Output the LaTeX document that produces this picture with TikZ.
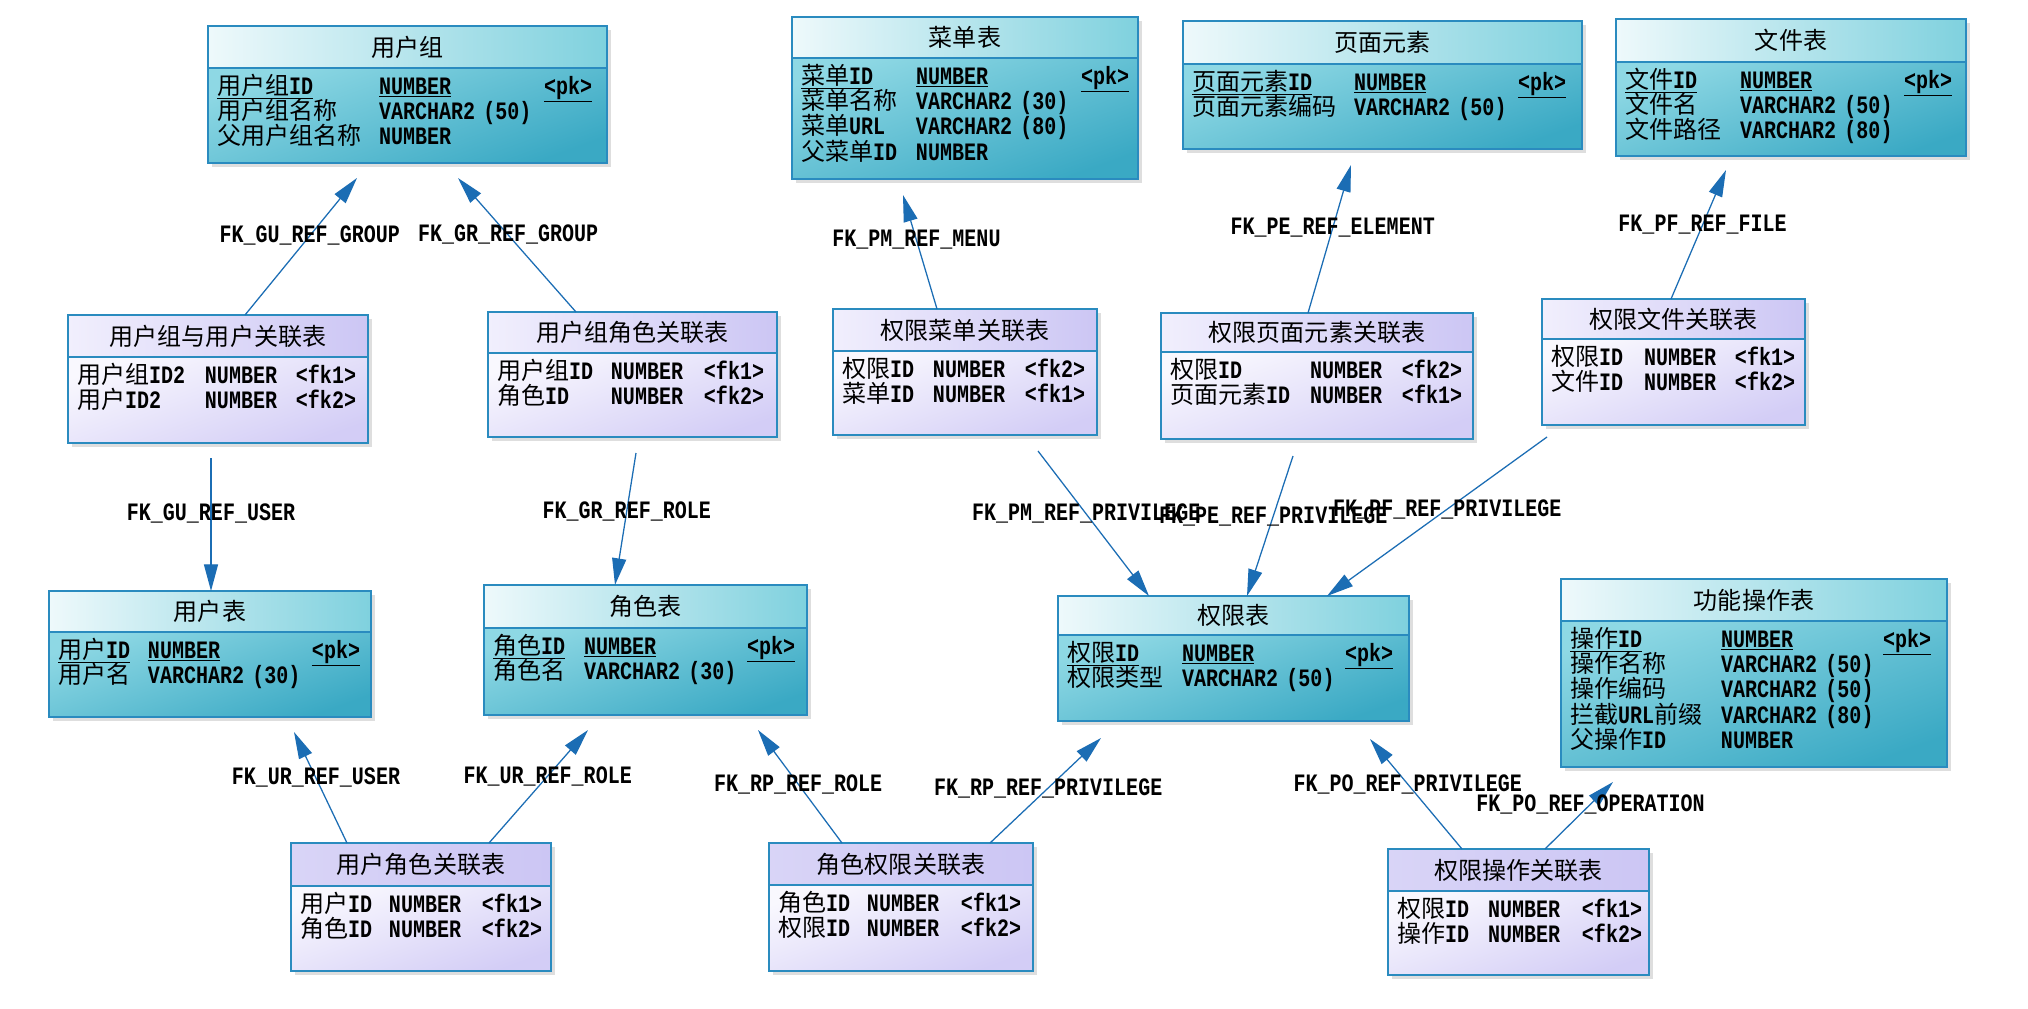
\documentclass[tikz,border=0pt]{standalone}
\usepackage{fontspec}
\setmainfont{Liberation Mono}[UprightFont=* Bold, FakeStretch=0.8]
\newfontfamily\zhfont{Noto Sans CJK SC}[Scale=0.96]
\usepackage{tikz}
\usetikzlibrary{positioning,arrows.meta,shadows}
\definecolor{bordc}{HTML}{2A8BBF}
\definecolor{enthl}{HTML}{EEF9FB}
\definecolor{enthr}{HTML}{7FD1DE}
\definecolor{entbt}{HTML}{8ED8E4}
\definecolor{entbb}{HTML}{3AA9C4}
\definecolor{lnkhl}{HTML}{F1EFFD}
\definecolor{lnkhr}{HTML}{CCC6F4}
\definecolor{lnkbt}{HTML}{F9F8FE}
\definecolor{lnkbb}{HTML}{D3CDF6}
\definecolor{fkc}{HTML}{1B6DB4}
\newlength\px \setlength\px{0.025cm}
\newlength\cwa \newlength\cwb
\newcommand\cols[2]{\setlength\cwa{#1\px}\setlength\cwb{#2\px}}
\newcommand\zh[1]{{\zhfont #1}}
\newcommand\frow[3]{\makebox[\cwa][l]{#1}\makebox[\cwb][l]{#2}#3}
\newcommand\pkrow[3]{\makebox[\cwa][l]{\underline{#1}}\makebox[\cwb][l]{\underline{#2}}\underline{#3}}
\newcommand\rowfont{\fontsize{17.8}{17.95}\selectfont\lineskiplimit=-100pt\relax}
\tikzset{
  tbl/.style={draw=bordc, line width=1.3pt, outer sep=0pt, inner sep=0pt,
              drop shadow={shadow xshift=2.5pt, shadow yshift=-2.5pt, opacity=.18, fill=black!70}},
  thead/.style={tbl, anchor=north west, font=\rowfont\zhfont},
  tbody/.style={tbl, align=left, inner xsep=9*\px, text height=26.5*\px, font=\rowfont},
  enthead/.style={thead, left color=enthl, right color=enthr},
  entbody/.style={tbody, top color=entbt, bottom color=entbb, shading angle=20},
  lnkhead/.style={thead, left color=lnkhl, right color=lnkhr},
  lnkheadd/.style={thead, left color=lnkhr!75, right color=lnkhr},
  lnkbody/.style={tbody, top color=lnkbt, bottom color=lnkbb, shading angle=20},
  fk/.style={draw=fkc, line width=0.9pt, -{Triangle[length=19pt, width=10pt]}},
  fklbl/.style={font=\rowfont, inner sep=0pt},
}
\begin{document}
\begin{tikzpicture}[x=0.025cm, y=-0.025cm]
  \fill[white] (0,0) rectangle (2028,1008);
  \useasboundingbox (0,0) rectangle (2028,1008);

  % entity tables
  \node[enthead, minimum width=399*\px, minimum height=42*\px] (grp) at (208,26) {用户组};
  \node[entbody, text width=381*\px, text depth=68.5*\px, below=0pt of grp] (grp-b)
       {\cols{162}{165}\pkrow{\zh{用户组}ID}{NUMBER}{<pk>}\\
        \frow{\zh{用户组名称}}{VARCHAR2 (50)}{}\\
        \frow{\zh{父用户组名称}}{NUMBER}{}};
  \node[enthead, minimum width=346*\px, minimum height=41*\px] (menu) at (792,17) {菜单表};
  \node[entbody, text width=328*\px, text depth=94.5*\px, below=0pt of menu] (menu-b)
       {\cols{115}{165}\pkrow{\zh{菜单}ID}{NUMBER}{<pk>}\\
        \frow{\zh{菜单名称}}{VARCHAR2 (30)}{}\\
        \frow{\zh{菜单}URL}{VARCHAR2 (80)}{}\\
        \frow{\zh{父菜单}ID}{NUMBER}{}};
  \node[enthead, minimum width=399*\px, minimum height=43*\px] (elem) at (1183,21) {页面元素};
  \node[entbody, text width=381*\px, text depth=58.5*\px, below=0pt of elem] (elem-b)
       {\cols{162}{164}\pkrow{\zh{页面元素}ID}{NUMBER}{<pk>}\\
        \frow{\zh{页面元素编码}}{VARCHAR2 (50)}{}};
  \node[enthead, minimum width=350*\px, minimum height=43*\px] (file) at (1616,19) {文件表};
  \node[entbody, text width=332*\px, text depth=67.5*\px, below=0pt of file] (file-b)
       {\cols{115}{164}\pkrow{\zh{文件}ID}{NUMBER}{<pk>}\\
        \frow{\zh{文件名}}{VARCHAR2 (50)}{}\\
        \frow{\zh{文件路径}}{VARCHAR2 (80)}{}};
  \node[enthead, minimum width=322*\px, minimum height=41*\px] (user) at (49,591) {用户表};
  \node[entbody, text width=304*\px, text depth=58.5*\px, below=0pt of user] (user-b)
       {\cols{90}{164}\pkrow{\zh{用户}ID}{NUMBER}{<pk>}\\
        \frow{\zh{用户名}}{VARCHAR2 (30)}{}};
  \node[enthead, minimum width=323*\px, minimum height=43*\px] (role) at (484,585) {角色表};
  \node[entbody, text width=305*\px, text depth=60.5*\px, below=0pt of role] (role-b)
       {\cols{91}{163}\pkrow{\zh{角色}ID}{NUMBER}{<pk>}\\
        \frow{\zh{角色名}}{VARCHAR2 (30)}{}};
  \node[enthead, minimum width=351*\px, minimum height=39*\px] (priv) at (1058,596) {权限表};
  \node[entbody, text width=333*\px, text depth=59.5*\px, below=0pt of priv] (priv-b)
       {\cols{115}{163}\pkrow{\zh{权限}ID}{NUMBER}{<pk>}\\
        \frow{\zh{权限类型}}{VARCHAR2 (50)}{}};
  \node[enthead, minimum width=386*\px, minimum height=42*\px] (op) at (1561,579) {功能操作表};
  \node[entbody, text width=368*\px, text depth=119.5*\px, below=0pt of op] (op-b)
       {\cols{151}{162}\pkrow{\zh{操作}ID}{NUMBER}{<pk>}\\
        \frow{\zh{操作名称}}{VARCHAR2 (50)}{}\\
        \frow{\zh{操作编码}}{VARCHAR2 (50)}{}\\
        \frow{\zh{拦截}URL\zh{前缀}}{VARCHAR2 (80)}{}\\
        \frow{\zh{父操作}ID}{NUMBER}{}};

  % link tables
  \node[lnkhead, minimum width=300*\px, minimum height=42*\px] (gu) at (68,315) {用户组与用户关联表};
  \node[lnkbody, text width=282*\px, text depth=59.5*\px, below=0pt of gu] (gu-b)
       {\cols{128}{91}\frow{\zh{用户组}ID2}{NUMBER}{<fk1>}\\
        \frow{\zh{用户}ID2}{NUMBER}{<fk2>}};
  \node[lnkhead, minimum width=289*\px, minimum height=41*\px] (gr) at (488,312) {用户组角色关联表};
  \node[lnkbody, text width=271*\px, text depth=57.5*\px, below=0pt of gr] (gr-b)
       {\cols{114}{93}\frow{\zh{用户组}ID}{NUMBER}{<fk1>}\\
        \frow{\zh{角色}ID}{NUMBER}{<fk2>}};
  \node[lnkhead, minimum width=264*\px, minimum height=42*\px] (pm) at (833,309) {权限菜单关联表};
  \node[lnkbody, text width=246*\px, text depth=57.5*\px, below=0pt of pm] (pm-b)
       {\cols{91}{92}\frow{\zh{权限}ID}{NUMBER}{<fk2>}\\
        \frow{\zh{菜单}ID}{NUMBER}{<fk1>}};
  \node[lnkhead, minimum width=312*\px, minimum height=39*\px] (pe) at (1161,313) {权限页面元素关联表};
  \node[lnkbody, text width=294*\px, text depth=60.5*\px, below=0pt of pe] (pe-b)
       {\cols{140}{92}\frow{\zh{权限}ID}{NUMBER}{<fk2>}\\
        \frow{\zh{页面元素}ID}{NUMBER}{<fk1>}};
  \node[lnkhead, minimum width=263*\px, minimum height=40*\px] (pf) at (1542,299) {权限文件关联表};
  \node[lnkbody, text width=245*\px, text depth=59.5*\px, below=0pt of pf] (pf-b)
       {\cols{93}{91}\frow{\zh{权限}ID}{NUMBER}{<fk1>}\\
        \frow{\zh{文件}ID}{NUMBER}{<fk2>}};
  \node[lnkheadd, minimum width=260*\px, minimum height=43*\px] (ur) at (291,843) {用户角色关联表};
  \node[lnkbody, text width=242*\px, text depth=58.5*\px, below=0pt of ur] (ur-b)
       {\cols{89}{93}\frow{\zh{用户}ID}{NUMBER}{<fk1>}\\
        \frow{\zh{角色}ID}{NUMBER}{<fk2>}};
  \node[lnkheadd, minimum width=264*\px, minimum height=42*\px] (rp) at (769,843) {角色权限关联表};
  \node[lnkbody, text width=246*\px, text depth=59.5*\px, below=0pt of rp] (rp-b)
       {\cols{89}{94}\frow{\zh{角色}ID}{NUMBER}{<fk1>}\\
        \frow{\zh{权限}ID}{NUMBER}{<fk2>}};
  \node[lnkheadd, minimum width=261*\px, minimum height=42*\px] (po) at (1388,849) {权限操作关联表};
  \node[lnkbody, text width=243*\px, text depth=57.5*\px, below=0pt of po] (po-b)
       {\cols{91}{94}\frow{\zh{权限}ID}{NUMBER}{<fk1>}\\
        \frow{\zh{操作}ID}{NUMBER}{<fk2>}};

  % references
  \draw[fk] ([xshift=177*\px]gu.north west) -- node[fklbl, pos=.578] (l-gu-grp) {FK\_GU\_REF\_GROUP}
            ([xshift=149*\px, yshift=-15*\px]grp-b.south west);
  \draw[fk] ([xshift=88*\px]gr.north west) -- node[fklbl, pos=.575] (l-gr-grp) {FK\_GR\_REF\_GROUP}
            ([xshift=250*\px, yshift=-15*\px]grp-b.south west);
  \draw[fk] ([xshift=143*\px, yshift=-15*\px]gu-b.south west) -- node[fklbl, pos=.42] (l-gu-user) {FK\_GU\_REF\_USER}
            ([xshift=162*\px]user.north west);
  \draw[fk] ([xshift=148*\px, yshift=-16*\px]gr-b.south west) -- node[fklbl, pos=.44] (l-gr-role) {FK\_GR\_REF\_ROLE}
            ([xshift=131*\px]role.north west);
  \draw[fk] ([xshift=104*\px]pm.north west) -- node[fklbl, pos=.605] (l-pm-menu) {FK\_PM\_REF\_MENU}
            ([xshift=111*\px, yshift=-16*\px]menu-b.south west);
  \draw[fk] ([xshift=147*\px]pe.north west) -- node[fklbl, pos=.574] (l-pe-elem) {FK\_PE\_REF\_ELEMENT}
            ([xshift=168*\px, yshift=-16*\px]elem-b.south west);
  \draw[fk] ([xshift=129*\px]pf.north west) -- node[fklbl, pos=.574] (l-pf-file) {FK\_PF\_REF\_FILE}
            ([xshift=110*\px, yshift=-14*\px]file-b.south west);
  \draw[fk] ([xshift=205*\px, yshift=-16*\px]pm-b.south west) -- node[fklbl, pos=.434] (l-pm-priv) {FK\_PM\_REF\_PRIVILEGE}
            ([xshift=91*\px]priv.north west);
  \draw[fk] ([xshift=132*\px, yshift=-17*\px]pe-b.south west) -- node[fklbl, pos=.43] (l-pe-priv) {FK\_PE\_REF\_PRIVILEGE}
            ([xshift=189*\px]priv.north west);
  \draw[fk] ([xshift=5*\px, yshift=-12*\px]pf-b.south west) -- node[fklbl, pos=.453] (l-pf-priv) {FK\_PF\_REF\_PRIVILEGE}
            ([xshift=269*\px]priv.north west);
  \draw[fk] ([xshift=56*\px]ur.north west) -- node[fklbl, pos=.586] (l-ur-user) {FK\_UR\_REF\_USER}
            ([xshift=245*\px, yshift=-15*\px]user-b.south west);
  \draw[fk] ([xshift=198*\px]ur.north west) -- node[fklbl, pos=.593] (l-ur-role) {FK\_UR\_REF\_ROLE}
            ([xshift=104*\px, yshift=-15*\px]role-b.south west);
  \draw[fk] ([xshift=73*\px]rp.north west) -- node[fklbl, pos=.522] (l-rp-role) {FK\_RP\_REF\_ROLE}
            ([xshift=274*\px, yshift=-15*\px]role-b.south west);
  \draw[fk] ([xshift=221*\px]rp.north west) -- node[fklbl, pos=.524] (l-rp-priv) {FK\_RP\_REF\_PRIVILEGE}
            ([xshift=43*\px, yshift=-17*\px]priv-b.south west);
  \draw[fk] ([xshift=74*\px]po.north west) -- node[fklbl, pos=.59] (l-po-priv) {FK\_PO\_REF\_PRIVILEGE}
            ([xshift=312*\px, yshift=-18*\px]priv-b.south west);
  \draw[fk] ([xshift=157*\px]po.north west) -- node[fklbl, pos=.67] (l-po-op) {FK\_PO\_REF\_OPERATION}
            ([xshift=52*\px, yshift=-15*\px]op-b.south west);
\end{tikzpicture}
\end{document}
